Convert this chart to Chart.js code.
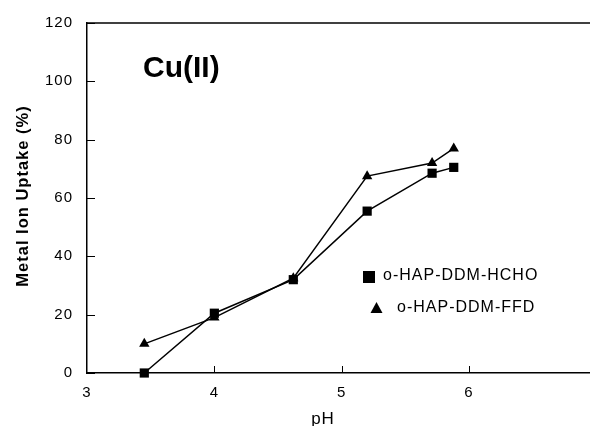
<!DOCTYPE html>
<html>
<head>
<meta charset="utf-8">
<script src="https://cdn.jsdelivr.net/npm/chart.js@4.4.0/dist/chart.umd.min.js"></script>
<style>
  html, body { margin: 0; padding: 0; background: #fff; overflow: hidden; }
  #wrap { width: 590px; height: 426px; position: relative; }
  #chart { display: block; }
</style>
</head>
<body>
<div id="wrap"><canvas id="chart"></canvas></div>
<script>
// pH values (x) and uptake (%) for each resin
const phValues = [3.45, 4.0, 4.62, 5.2, 5.71, 5.88];
const hchoUptake = [0, 20.5, 32, 55.5, 68.5, 70.5];
const ffdUptake = [10, 19, 32.5, 67.5, 72, 77];
const seriesNames = ['o-HAP-DDM-HCHO', 'o-HAP-DDM-FFD'];
const yTicks = [0, 20, 40, 60, 80, 100, 120];

const FONT = '"Liberation Sans", Arial, sans-serif';

function toPoints(ys) {
  return phValues.map((x, i) => ({ x: x, y: ys[i] }));
}

// wider letter spacing like the scanned original
const spacing = {
  id: 'spacing',
  beforeDraw(chart) { chart.ctx.letterSpacing = '1px'; }
};

// inner tick marks, top frame line, axis titles, panel label and legend
const decorations = {
  id: 'decorations',
  afterDraw(chart) {
    const ctx = chart.ctx;
    const area = chart.chartArea;
    const xs = chart.scales.x, ys = chart.scales.y;
    ctx.save();
    ctx.strokeStyle = '#000';
    ctx.lineWidth = 1.5;
    ctx.beginPath();
    ctx.moveTo(area.left, area.top);
    ctx.lineTo(area.right, area.top);
    ctx.stroke();
    ctx.lineWidth = 1;
    ctx.beginPath();
    yTicks.forEach(v => {
      const py = Math.round(ys.getPixelForValue(v)) + 0.5;
      ctx.moveTo(area.left, py);
      ctx.lineTo(area.left + 8, py);
    });
    [4, 5, 6].forEach(v => {
      const px = Math.round(xs.getPixelForValue(v)) + 0.5;
      ctx.moveTo(px, area.bottom);
      ctx.lineTo(px, area.bottom - 7);
    });
    ctx.stroke();

    ctx.fillStyle = '#000';
    ctx.textBaseline = 'middle';
    ctx.letterSpacing = '0px';
    ctx.font = 'bold 30px ' + FONT;
    ctx.fillText('Cu(II)', 143, 69);

    ctx.letterSpacing = '1px';
    // axis titles
    ctx.font = '17px ' + FONT;
    ctx.textAlign = 'center';
    ctx.fillText('pH', 323, 419);
    ctx.save();
    ctx.translate(23, 196);
    ctx.rotate(-Math.PI / 2);
    ctx.font = 'bold 16.5px ' + FONT;
    ctx.fillText('Metal Ion Uptake (%)', 0, 0);
    ctx.restore();

    // legend
    ctx.textAlign = 'left';
    ctx.font = '16px ' + FONT;
    ctx.fillRect(363, 271, 12, 12);
    ctx.fillText(seriesNames[0], 383, 276);
    ctx.beginPath();
    ctx.moveTo(376.5, 302);
    ctx.lineTo(382.5, 313);
    ctx.lineTo(370.5, 313);
    ctx.closePath();
    ctx.fill();
    ctx.fillText(seriesNames[1], 397, 308);
    ctx.restore();
  }
};

new Chart(document.getElementById('chart'), {
  type: 'scatter',
  data: {
    datasets: [{
      label: seriesNames[0],
      data: toPoints(hchoUptake),
      showLine: true,
      borderColor: '#000',
      backgroundColor: '#000',
      borderWidth: 1.5,
      pointStyle: 'rect',
      pointRadius: 6.5,
      pointBorderWidth: 0
    }, {
      label: seriesNames[1],
      data: toPoints(ffdUptake),
      showLine: true,
      borderColor: '#000',
      backgroundColor: '#000',
      borderWidth: 1.5,
      pointStyle: 'triangle',
      pointRadius: 6,
      pointBorderWidth: 0
    }]
  },
  options: {
    responsive: true,
    maintainAspectRatio: false,
    animation: false,
    clip: false,
    layout: { autoPadding: false, padding: { top: 19, right: 0, left: 0, bottom: 0 } },
    plugins: {
      legend: { display: false },
      tooltip: { enabled: false }
    },
    scales: {
      x: {
        type: 'linear',
        min: 3,
        max: 6.95,
        border: { display: true, color: '#000', width: 1.5 },
        grid: { display: false, drawTicks: false },
        ticks: {
          stepSize: 1,
          includeBounds: false,
          color: '#000',
          padding: 11,
          font: { family: FONT, size: 15 }
        },
        title: { display: false },
        afterFit(scale) {
          scale.height = 53;
          scale.paddingRight = 0;
        }
      },
      y: {
        min: 0,
        max: 120,
        border: { display: true, color: '#000', width: 1.5 },
        grid: { display: false, drawTicks: false },
        ticks: {
          stepSize: 20,
          color: '#000',
          padding: 14,
          font: { family: FONT, size: 15 }
        },
        title: { display: false },
        afterFit(scale) { scale.width = 87; }
      }
    }
  },
  plugins: [spacing, decorations]
});
</script>
</body>
</html>
